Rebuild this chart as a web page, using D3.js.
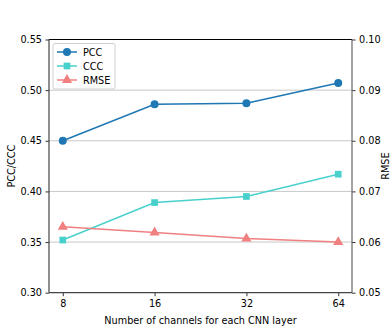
<!DOCTYPE html>
<html><head><meta charset="utf-8">
<script src="https://cdn.jsdelivr.net/npm/d3@7"></script>
<style>body{margin:0;background:#fff}svg{display:block}text{font-family:"DejaVu Sans",sans-serif}</style>
</head><body><svg id="c" width="391" height="329"></svg>
<script>
const categories = ["8","16","32","64"];
const pcc = [0.450, 0.486, 0.487, 0.507];
const ccc = [0.352, 0.389, 0.395, 0.417];
const rmse = [0.0630, 0.0619, 0.0607, 0.0600];
const leftTicks = [0.30,0.35,0.40,0.45,0.50,0.55];
const rightTicks = [0.05,0.06,0.07,0.08,0.09,0.10];

const svg = d3.select("#c");
const L=49, R=352, T=39.5, B=292.7;
const x = d3.scaleLinear().domain([-0.15, categories.length-1+0.15]).range([L,R]);
const yL = d3.scaleLinear().domain([0.30,0.55]).range([B,T]);
const yR = d3.scaleLinear().domain([0.05,0.10]).range([B,T]);

// grid
svg.append("g").selectAll("line").data(leftTicks.slice(1,-1)).join("line")
  .attr("x1",L).attr("x2",R).attr("y1",d=>yL(d)).attr("y2",d=>yL(d))
  .attr("stroke","#c8c8c8").attr("stroke-width",1);

const fs = 9.7;
// axes
const axL = svg.append("g").attr("transform",`translate(${L},0)`)
  .call(d3.axisLeft(yL).tickValues(leftTicks).tickFormat(d3.format(".2f")).tickSize(3.5).tickPadding(3.5));
const axR = svg.append("g").attr("transform",`translate(${R},0)`)
  .call(d3.axisRight(yR).tickValues(rightTicks).tickFormat(d3.format(".2f")).tickSize(3.5).tickPadding(3.5));
const axB = svg.append("g").attr("transform",`translate(0,${B})`)
  .call(d3.axisBottom(x).tickValues(d3.range(categories.length)).tickFormat(i=>categories[i]).tickSize(3.5).tickPadding(3.5));
[axL,axR,axB].forEach(a=>{
  a.select(".domain").remove();
  a.selectAll("text").attr("font-size",fs).attr("fill","#000").style("font-family","DejaVu Sans");
  a.selectAll("line").attr("stroke","#333");
});
// spines
svg.append("line").attr("x1",L).attr("x2",R).attr("y1",T).attr("y2",T).attr("stroke","#000").attr("stroke-width",1);
svg.append("line").attr("x1",L).attr("x2",R).attr("y1",B).attr("y2",B).attr("stroke","#444").attr("stroke-width",1.2);
svg.append("line").attr("x1",L).attr("x2",L).attr("y1",T).attr("y2",B).attr("stroke","#444").attr("stroke-width",1.2);
svg.append("line").attr("x1",R).attr("x2",R).attr("y1",T).attr("y2",B).attr("stroke","#666").attr("stroke-width",1.2);

const series = [
  {name:"PCC", vals:pcc, y:yL, color:"#1f77b4", sym:d3.symbolCircle, size:50},
  {name:"CCC", vals:ccc, y:yL, color:"#48d1cc", sym:d3.symbolSquare, size:45},
  {name:"RMSE", vals:rmse, y:yR, color:"#f08080", sym:d3.symbolTriangle, size:45},
];
series.forEach(s=>{
  const line = d3.line().x((d,i)=>x(i)).y(d=>s.y(d));
  svg.append("path").attr("d",line(s.vals)).attr("fill","none").attr("stroke",s.color).attr("stroke-width",1.5);
  svg.append("g").selectAll("path").data(s.vals).join("path")
    .attr("transform",(d,i)=>`translate(${x(i)},${s.y(d)})`)
    .attr("d",d3.symbol().type(s.sym).size(s.size)).attr("fill",s.color);
});

// legend
const lg = svg.append("g");
lg.append("rect").attr("x",53).attr("y",43.5).attr("width",62).attr("height",45.5).attr("rx",2)
  .attr("fill","#fff").attr("fill-opacity",0.8).attr("stroke","#d0d0d0");
series.forEach((s,i)=>{
  const yy = 52 + i*14;
  lg.append("line").attr("x1",57).attr("x2",77).attr("y1",yy).attr("y2",yy).attr("stroke",s.color).attr("stroke-width",1.5);
  lg.append("path").attr("transform",`translate(67,${yy})`).attr("d",d3.symbol().type(s.sym).size(s.size)).attr("fill",s.color);
  lg.append("text").attr("x",83).attr("y",yy+3.5).attr("font-size",fs).text(s.name);
});

// labels
svg.append("text").attr("transform",`translate(15,${(T+B)/2}) rotate(-90)`).attr("text-anchor","middle").attr("font-size",fs).text("PCC/CCC");
svg.append("text").attr("transform",`translate(389,${(T+B)/2}) rotate(-90)`).attr("text-anchor","middle").attr("font-size",fs).text("RMSE");
svg.append("text").attr("x",(L+R)/2).attr("y",324).attr("text-anchor","middle").attr("font-size",fs).text("Number of channels for each CNN layer");
</script></body></html>
